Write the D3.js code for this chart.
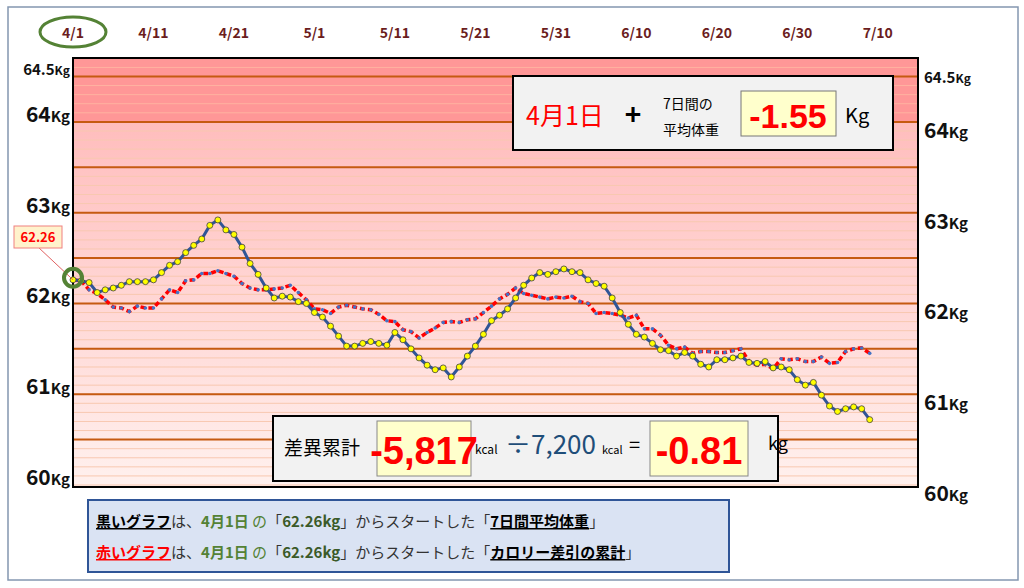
<!DOCTYPE html>
<html><head><meta charset="utf-8">
<script src="https://cdn.jsdelivr.net/npm/d3@7"></script>
<style>
body{margin:0;background:#fff;}
text{font-family:"Noto Sans CJK JP","Noto Sans",sans-serif;}
.num{font-family:"Liberation Sans Narrow","Liberation Sans",sans-serif;font-weight:bold;}
</style></head>
<body><svg width="1024" height="588"></svg>
<script>
// day 0 = 4/1
const dateLabels = ["4/1","4/11","4/21","5/1","5/11","5/21","5/31","6/10","6/20","6/30","7/10"]
const dateTicks  = [0,10,20,30,40,50,60,70,80,90,100]

const weightAvg7 = [62.26,62.25,62.23,62.12,62.15,62.17,62.20,62.24,62.24,62.24,
  62.26,62.34,62.42,62.46,62.56,62.64,62.71,62.86,62.92,62.81,
  62.76,62.62,62.44,62.32,62.17,62.06,62.08,62.07,62.02,62.00,
  61.90,61.85,61.75,61.64,61.53,61.53,61.56,61.58,61.56,61.54,
  61.68,61.60,61.50,61.40,61.32,61.27,61.29,61.19,61.30,61.42,
  61.53,61.66,61.81,61.87,61.94,62.06,62.20,62.28,62.34,62.32,
  62.35,62.38,62.35,62.34,62.26,62.22,62.19,62.06,61.90,61.77,
  61.66,61.63,61.56,61.49,61.48,61.42,61.46,61.42,61.33,61.30,
  61.38,61.38,61.40,61.42,61.35,61.34,61.36,61.29,61.30,61.27,
  61.16,61.10,61.13,60.99,60.87,60.81,60.84,60.86,60.84,60.72]

const calorieCum = [62.26,62.25,62.15,62.11,62.04,61.96,61.95,61.91,61.97,61.95,
  61.95,62.05,62.15,62.12,62.25,62.26,62.33,62.33,62.36,62.33,
  62.30,62.22,62.17,62.15,62.15,62.16,62.17,62.20,62.12,62.04,
  61.94,61.93,61.89,61.96,61.98,61.96,61.94,61.93,61.88,61.81,
  61.80,61.71,61.69,61.62,61.68,61.73,61.79,61.80,61.79,61.82,
  61.83,61.90,61.97,62.05,62.10,62.17,62.11,62.09,62.07,62.05,
  62.07,62.06,62.08,62.02,62.00,61.89,61.90,61.89,61.87,61.84,
  61.87,61.72,61.72,61.65,61.54,61.50,61.52,61.45,61.47,61.47,
  61.46,61.46,61.48,61.50,61.36,61.32,61.33,61.28,61.39,61.38,
  61.39,61.36,61.36,61.41,61.34,61.35,61.47,61.50,61.51,61.45]

const yLabels = [{v:64.5,t:"64.5",small:true},{v:64,t:"64"},{v:63,t:"63"},{v:62,t:"62"},{v:61,t:"61"},{v:60,t:"60"}]

const svg = d3.select("svg")
const x = d3.scaleLinear().domain([0,105]).range([73,918])
const y = d3.scaleLinear().domain([60,64.5]).range([485,76.5])
const plotTop = 58, plotBottom = 487

// outer frame
svg.append("rect").attr("x",8).attr("y",7).attr("width",1010).attr("height",573)
  .attr("fill","none").attr("stroke","#8497b0").attr("stroke-width",1.5)

const defs = svg.append("defs")
const g = defs.append("linearGradient").attr("id","bg").attr("x1",0).attr("x2",0).attr("y1",0).attr("y2",1)
g.append("stop").attr("offset","0%").attr("stop-color","#ffbdbd")
g.append("stop").attr("offset","100%").attr("stop-color","#fff1ee")

svg.append("rect").attr("x",x(0)).attr("y",plotTop).attr("width",x(105)-x(0)).attr("height",y(64)-plotTop).attr("fill","#ff9797")
svg.append("rect").attr("x",x(0)).attr("y",y(64)).attr("width",x(105)-x(0)).attr("height",plotBottom-y(64)).attr("fill","url(#bg)")

const minor = d3.range(600,647).map(d => d/10)
svg.selectAll(".minor").data(minor).join("line")
  .attr("x1",x(0)).attr("x2",x(105)).attr("y1",d=>y(d)).attr("y2",d=>y(d))
  .attr("stroke",d=>d>=64?"#ffb3a0":"#f8c8b0").attr("stroke-width",1)
const major = [60.5,61,61.5,62,62.5,63,63.5,64,64.5]
svg.selectAll(".major").data(major).join("line")
  .attr("x1",x(0)).attr("x2",x(105)).attr("y1",d=>y(d)).attr("y2",d=>y(d))
  .attr("stroke","#c55a11").attr("stroke-width",2)

svg.append("rect").attr("x",x(0)).attr("y",plotTop).attr("width",x(105)-x(0)).attr("height",plotBottom-plotTop)
  .attr("fill","none").attr("stroke","#000").attr("stroke-width",2)

// date labels
svg.selectAll(".dl").data(dateTicks).join("text")
  .attr("x",d=>x(d)).attr("y",38).attr("text-anchor","middle")
  .attr("font-size",14).attr("font-weight","bold").attr("fill","#6b1d1d")
  .text((d,i)=>dateLabels[i])
svg.append("ellipse").attr("cx",x(0)).attr("cy",32).attr("rx",33).attr("ry",15)
  .attr("fill","none").attr("stroke","#548235").attr("stroke-width",3)

// y labels both sides
function yLab(xpos, anchor, dyBig, dySmall){
  const t = svg.append("g").selectAll("text").data(yLabels).join("text")
    .attr("x",xpos).attr("y",d=>y(d.v)+(d.small?dySmall:dyBig)).attr("text-anchor",anchor)
    .attr("fill","#111").attr("font-weight","bold")
  t.append("tspan").attr("font-size",d=>d.small?15:21).text(d=>d.t)
  t.append("tspan").attr("font-size",d=>d.small?12:15).text("Kg")
}
yLab(70,"end",0,-2)
yLab(924,"start",16,6)

// red series
const line = d3.line().x((d,i)=>x(i)).y(d=>y(d))
svg.append("path").datum(calorieCum).attr("d",line).attr("fill","none")
  .attr("stroke","#ff0000").attr("stroke-width",3.5).attr("stroke-dasharray","5,3")
svg.selectAll(".rd").data(calorieCum).join("circle")
  .attr("cx",(d,i)=>x(i)).attr("cy",d=>y(d)).attr("r",1.8).attr("fill","#4472c4")

// blue series
svg.append("path").datum(weightAvg7).attr("d",line).attr("fill","none")
  .attr("stroke","#2f5597").attr("stroke-width",3)
svg.selectAll(".bd").data(weightAvg7).join("circle")
  .attr("cx",(d,i)=>x(i)).attr("cy",d=>y(d)).attr("r",3).attr("fill","#ffff00")
  .attr("stroke","#404040").attr("stroke-width",0.8)

// start callout
svg.append("line").attr("x1",38).attr("y1",247).attr("x2",x(0)).attr("y2",y(weightAvg7[0]))
  .attr("stroke","#e06060").attr("stroke-width",1)
svg.append("rect").attr("x",14).attr("y",226).attr("width",48).attr("height",22)
  .attr("fill","#fff2cc").attr("stroke","#f08080")
svg.append("text").attr("x",38).attr("y",242).attr("text-anchor","middle").attr("font-size",13)
  .attr("font-weight","bold").attr("fill","#ff0000").text(weightAvg7[0].toFixed(2))
svg.append("circle").attr("cx",x(0)).attr("cy",y(weightAvg7[0])-2).attr("r",9)
  .attr("fill","none").attr("stroke","#548235").attr("stroke-width",4)

// info box top
svg.append("rect").attr("x",513).attr("y",76).attr("width",380).attr("height",74)
  .attr("fill","#f2f2f2").attr("stroke","#000").attr("stroke-width",2)
svg.append("text").attr("x",565).attr("y",125).attr("font-size",25).attr("fill","#ff0000").attr("text-anchor","middle").text("4月1日")
svg.append("text").attr("x",633).attr("y",125).attr("font-size",28).attr("font-weight","bold").attr("text-anchor","middle").text("+")
svg.append("text").attr("x",663).attr("y",109).attr("font-size",14).text("7日間の")
svg.append("text").attr("x",663).attr("y",135).attr("font-size",14).text("平均体重")
svg.append("rect").attr("x",741).attr("y",91).attr("width",95).attr("height",45).attr("fill","#ffffcc").attr("stroke","#777")
svg.append("text").attr("class","num").attr("x",788).attr("y",128).attr("text-anchor","middle").attr("font-size",34).attr("fill","#ff0000").text("-1.55")
svg.append("text").attr("x",845).attr("y",123).attr("font-size",20).text("Kg")

// calorie box
svg.append("rect").attr("x",273).attr("y",416).attr("width",505).attr("height",65)
  .attr("fill","#f2f2f2").attr("stroke","#000").attr("stroke-width",2)
svg.append("text").attr("x",284).attr("y",455).attr("font-size",19).text("差異累計")
svg.append("rect").attr("x",377).attr("y",421).attr("width",94).attr("height",55).attr("fill","#ffffcc").attr("stroke","#888")
svg.append("text").attr("class","num").attr("x",424).attr("y",464).attr("text-anchor","middle").attr("font-size",38).attr("fill","#ff0000").text("-5,817")
svg.append("text").attr("x",475).attr("y",454).attr("font-size",12).text("kcal")
svg.append("text").attr("x",505).attr("y",454).attr("font-size",26).attr("fill","#1f4e79").text("÷7,200")
svg.append("text").attr("x",602).attr("y",454).attr("font-size",11).text("kcal")
svg.append("text").attr("x",629).attr("y",452).attr("font-size",20).text("=")
svg.append("rect").attr("x",650).attr("y",421).attr("width",98).attr("height",55).attr("fill","#ffffcc").attr("stroke","#888")
svg.append("text").attr("class","num").attr("x",699).attr("y",464).attr("text-anchor","middle").attr("font-size",38).attr("fill","#ff0000").text("-0.81")
svg.append("text").attr("x",768).attr("y",450).attr("font-size",18).text("kg")

// legend box
svg.append("rect").attr("x",88).attr("y",500).attr("width",641).attr("height",72)
  .attr("fill","#dae3f3").attr("stroke","#2f5597").attr("stroke-width",2)
const legendRows = [
  {name:"黒いグラフ", color:"#000", what:"7日間平均体重"},
  {name:"赤いグラフ", color:"#ff0000", what:"カロリー差引の累計"}]
legendRows.forEach((r,i)=>{
  const t = svg.append("text").attr("x",96).attr("y",527+i*31).attr("font-size",15).attr("fill","#333")
  t.append("tspan").attr("font-weight","bold").attr("fill",r.color).attr("text-decoration","underline").text(r.name)
  t.append("tspan").text("は、")
  t.append("tspan").attr("font-weight","bold").attr("fill","#548235").text("4月1日")
  t.append("tspan").attr("fill","#548235").text(" の")
  t.append("tspan").text("「")
  t.append("tspan").attr("font-weight","bold").attr("fill","#3a5a28").text("62.26kg")
  t.append("tspan").text("」からスタートした「")
  t.append("tspan").attr("font-weight","bold").attr("fill","#000").attr("text-decoration","underline").text(r.what)
  t.append("tspan").text("」")
})
</script></body></html>
